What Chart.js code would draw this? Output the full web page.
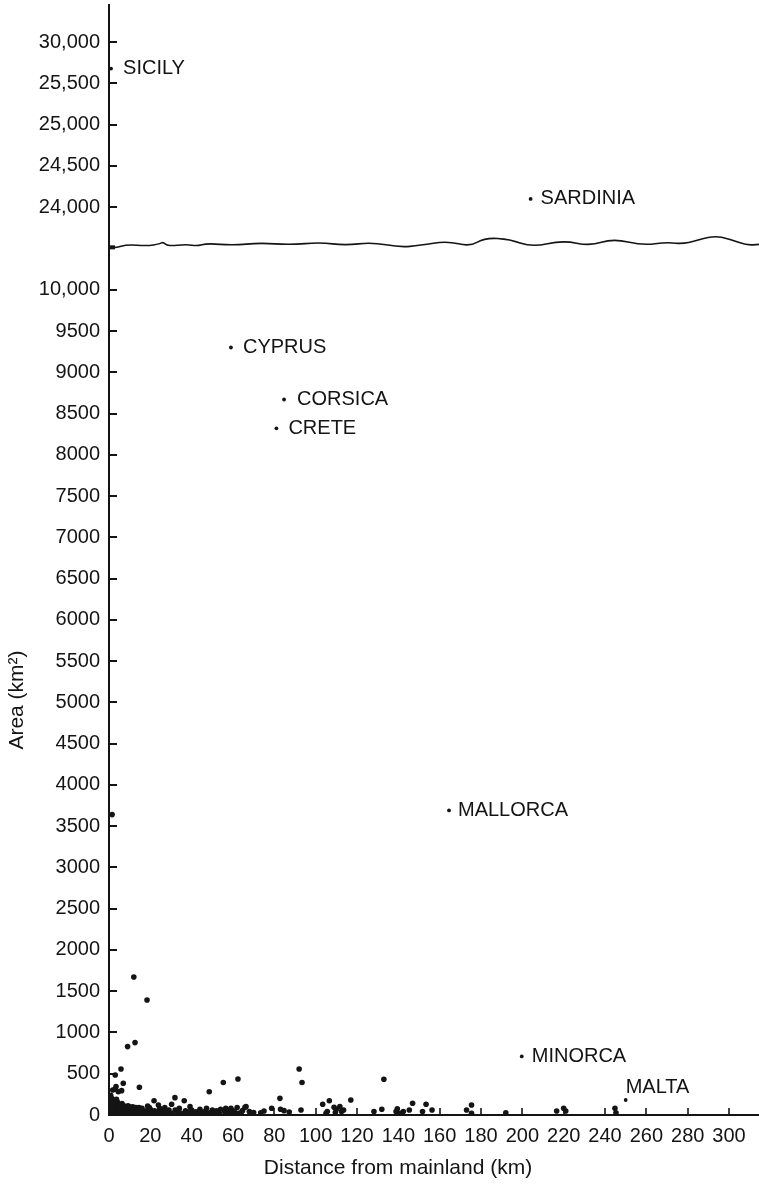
<!DOCTYPE html>
<html>
<head>
<meta charset="utf-8">
<script src="https://cdn.jsdelivr.net/npm/chart.js@4.4.1/dist/chart.umd.min.js"></script>
<style>
  html, body { margin: 0; padding: 0; background: #fff; }
</style>
</head>
<body>
<canvas id="islandChart" width="759" height="1184"></canvas>
<script>
// Named islands: distance from mainland (km) and area (km²)
const islandNames = ['SICILY', 'SARDINIA', 'CYPRUS', 'CORSICA', 'CRETE', 'MALLORCA', 'MINORCA', 'MALTA'];
const islandDistance = [1, 204, 59, 84.7, 81, 164.5, 199.7, 250];
const islandArea = [25680, 24100, 9300, 8670, 8320, 3690, 710, 182];

// Small unnamed islands as [distance km, area km²]
const otherIslands = [
    [0.3, 20], [0.5, 60], [0.5, 110], [0.6, 170], [0.8, 240], [1, 40], [1, 90], [1.2, 140],
    [1.4, 200], [1.5, 10], [1.5, 3640], [1.8, 303], [2, 60], [2, 120], [2.2, 180], [2.5, 30],
    [2.8, 90], [2.9, 312], [3, 150], [3, 485], [3.2, 50], [3.4, 344], [3.5, 110], [3.8, 20],
    [4, 70], [4, 160], [4.5, 283], [4.6, 40], [5, 120], [5, 10], [5.5, 80], [5.8, 557],
    [6, 30], [6.1, 295], [6.5, 100], [6.9, 384], [7, 50], [7.5, 20], [8, 80], [8.5, 40],
    [9, 829], [9.5, 60], [10, 100], [10.5, 20], [11, 70], [12, 40], [12, 1673], [12.6, 877],
    [13, 90], [13.5, 20], [14, 60], [14.7, 336], [15, 30], [16, 80], [17, 20], [18, 50],
    [18.4, 1394], [18.7, 109], [19, 30], [20, 70], [21, 20], [21.8, 173], [22, 50], [23, 30],
    [23.9, 121], [24.5, 80], [25, 20], [26, 50], [27, 90], [28, 30], [29, 60], [30.3, 130],
    [30.5, 20], [31.9, 210], [32, 60], [33, 30], [34, 80], [35, 20], [36.4, 173], [37, 50],
    [38, 30], [39.2, 101], [40, 60], [41, 20], [42, 40], [44, 70], [45, 20], [46, 40],
    [47.2, 81], [48.5, 282], [49, 30], [50, 60], [51, 20], [52, 50], [53, 30], [54, 70],
    [55.3, 393], [56, 40], [57, 60], [58, 20], [59, 80], [60, 50], [61, 30], [62, 90],
    [62.4, 436], [63, 20], [64.6, 53], [65.8, 93], [66.3, 101], [67.9, 41], [70, 30], [73.4, 28],
    [75, 48], [78.7, 81], [82.7, 202], [83, 69], [84.7, 53], [87.2, 36], [92, 557], [92.9, 60],
    [93.4, 393], [103.4, 130], [105.6, 41], [106.6, 173], [108.9, 93], [110, 70], [111.7, 101], [112.5, 41],
    [117, 182], [128.2, 41], [132, 69], [133, 433], [138.9, 41], [139.5, 75], [142.4, 41], [145.3, 60],
    [146.9, 142], [151.7, 41], [153.4, 130], [156.3, 60], [173, 60], [175.4, 121], [175.4, 20], [192, 28],
    [216.6, 48], [220, 81], [221, 48], [244.8, 81], [245.3, 28],
    [0.4, 130], [0.7, 200], [1.1, 70], [1.7, 160], [2.4, 100], [3.6, 190], [4.3, 130], [5.2, 60],
    [6.3, 140], [7.2, 110], [8.2, 30], [9.2, 110], [10.2, 45], [11.5, 100], [12.5, 15], [14.5, 90],
    [16.5, 40], [19.5, 90], [22.5, 10], [26.5, 15], [29.5, 10], [33.5, 60], [36, 15], [39, 40],
    [43, 15], [47.8, 20], [50.5, 35], [53.5, 15], [56.5, 80], [59.5, 15], [64, 30], [68.5, 20],
    [105, 20], [109.5, 30], [113.5, 60], [141, 20]
];

// Axis ticks
const xTicks = [0, 20, 40, 60, 80, 100, 120, 140, 160, 180, 200, 220, 240, 260, 280, 300];
const yTickAreas = [0, 500, 1000, 1500, 2000, 2500, 3000, 3500, 4000, 4500, 5000, 5500, 6000, 6500,
    7000, 7500, 8000, 8500, 9000, 9500, 10000, 24000, 24500, 25000, 25500, 26000];
const yTickLabels = ['0', '500', '1000', '1500', '2000', '2500', '3000', '3500', '4000', '4500', '5000',
    '5500', '6000', '6500', '7000', '7500', '8000', '8500', '9000', '9500', '10,000',
    '24,000', '24,500', '25,000', '25,500', '30,000'];

// broken y axis: the upper band (above 20,000) is shifted down to sit right after the break
const BREAK_SHIFT = 13000;
const BREAK_AT = 10550;
function axisY(area) {
    return area > 20000 ? area - BREAK_SHIFT : area;
}

const INK = '#141414';
const FONT = '"Liberation Sans", Arial, Helvetica, sans-serif';

// wave for the axis break, [x offset from plot left, y offset from break line] in px
const breakWave = [[0, 3], [6, 4], [18, 0], [38, 1.7], [51, -0.5], [54, -2.3], [59, 1.7], [78, 0],
    [88, 1.7], [98, -1], [124, 1], [151, -1.5], [181, 0.5], [211, -2], [236, 1], [263, -2],
    [291, 3], [311, 1], [338, -3.3], [361, 2.3], [376, -6.7], [401, -5], [423, 2.7], [454, -4],
    [481, 1.7], [504, -5.7], [534, 1], [558, -2.3], [576, 0], [604, -9], [621, -5], [638, 1], [650, 0]];

// label offsets [dx, dy, align] from each named island's point
const labelOffsets = [[12, 0, 'left'], [10, 0, 'left'], [12, 0, 'left'], [13, 0, 'left'],
    [12, 0, 'left'], [9, 0, 'left'], [10, 0, 'left'], [0, -12, 'left']];

const extras = {
    id: 'extras',
    afterDatasetsDraw(chart) {
        const { ctx, chartArea, scales } = chart;
        const x = scales.x, y = scales.y;
        ctx.save();
        ctx.strokeStyle = INK;
        ctx.lineWidth = 2;
        // y ticks point into the plot
        y.ticks.forEach(t => {
            const py = Math.round(y.getPixelForValue(t.value));
            ctx.beginPath();
            ctx.moveTo(chartArea.left, py);
            ctx.lineTo(chartArea.left + 8, py);
            ctx.stroke();
        });
        // x ticks point up
        ctx.lineWidth = 1.6;
        x.ticks.forEach(t => {
            const px = Math.round(x.getPixelForValue(t.value));
            ctx.beginPath();
            ctx.moveTo(px, chartArea.bottom);
            ctx.lineTo(px, chartArea.bottom - 7);
            ctx.stroke();
        });

        // axis break
        const by = y.getPixelForValue(BREAK_AT);
        ctx.lineWidth = 1.6;
        ctx.beginPath();
        const pts = breakWave.map(p => [chartArea.left + p[0], by + p[1]]);
        ctx.moveTo(pts[0][0], pts[0][1]);
        for (let i = 1; i < pts.length - 1; i++) {
            const mx = (pts[i][0] + pts[i + 1][0]) / 2;
            const my = (pts[i][1] + pts[i + 1][1]) / 2;
            ctx.quadraticCurveTo(pts[i][0], pts[i][1], mx, my);
        }
        const last = pts[pts.length - 1];
        ctx.lineTo(last[0], last[1]);
        ctx.stroke();
        ctx.fillStyle = INK;
        ctx.fillRect(chartArea.left, by + 1, 6, 4);

        // island names
        ctx.fillStyle = INK;
        ctx.font = '20px ' + FONT;
        ctx.textBaseline = 'middle';
        islandNames.forEach((name, i) => {
            const px = x.getPixelForValue(islandDistance[i]);
            const py = y.getPixelForValue(axisY(islandArea[i]));
            const off = labelOffsets[i];
            ctx.textAlign = off[2];
            ctx.fillText(name, px + off[0], py + off[1]);
        });

        // axis titles
        ctx.font = '21px ' + FONT;
        ctx.textAlign = 'center';
        ctx.fillText('Distance from mainland (km)', chartArea.left + 289, chartArea.bottom + 53);
        ctx.translate(17, chartArea.bottom - 415);
        ctx.rotate(-Math.PI / 2);
        ctx.fillText('Area (km²)', 0, 0);
        ctx.restore();
    }
};

new Chart(document.getElementById('islandChart').getContext('2d'), {
    type: 'scatter',
    data: {
        datasets: [{
            label: 'Named islands',
            data: islandNames.map((n, i) => ({ x: islandDistance[i], y: axisY(islandArea[i]) })),
            backgroundColor: INK,
            borderWidth: 0,
            pointRadius: 1.9
        }, {
            label: 'Other islands',
            data: otherIslands.map(p => ({ x: p[0], y: axisY(p[1]) })),
            backgroundColor: INK,
            borderWidth: 0,
            pointRadius: 2.8
        }]
    },
    options: {
        responsive: false,
        animation: false,
        layout: { autoPadding: false, padding: { top: 5, right: 0, left: 0, bottom: 0 } },
        plugins: {
            legend: { display: false },
            tooltip: { enabled: false }
        },
        scales: {
            x: {
                type: 'linear',
                min: 0,
                max: 314.5,
                grid: { display: false, drawTicks: false },
                border: { display: true, color: INK, width: 2 },
                afterBuildTicks: (scale) => { scale.ticks = xTicks.map(v => ({ value: v })); },
                afterFit: (scale) => {
                    scale.height = 69;
                    scale.paddingLeft = 0;
                    scale.paddingRight = 0;
                },
                ticks: {
                    autoSkip: false,
                    maxRotation: 0,
                    padding: 9,
                    color: INK,
                    font: { family: FONT, size: 20 }
                }
            },
            y: {
                type: 'linear',
                min: 0,
                max: 13450,
                grid: { display: false, drawTicks: false },
                border: { display: true, color: INK, width: 2 },
                afterBuildTicks: (scale) => { scale.ticks = yTickAreas.map(a => ({ value: axisY(a) })); },
                afterFit: (scale) => {
                    scale.width = 109;
                    scale.paddingTop = 0;
                    scale.paddingBottom = 0;
                },
                ticks: {
                    autoSkip: false,
                    padding: 9,
                    color: INK,
                    font: { family: FONT, size: 20 },
                    callback: function (value) {
                        const i = yTickAreas.findIndex(a => axisY(a) === value);
                        return i >= 0 ? yTickLabels[i] : '';
                    }
                }
            }
        }
    },
    plugins: [extras]
});
</script>
</body>
</html>
